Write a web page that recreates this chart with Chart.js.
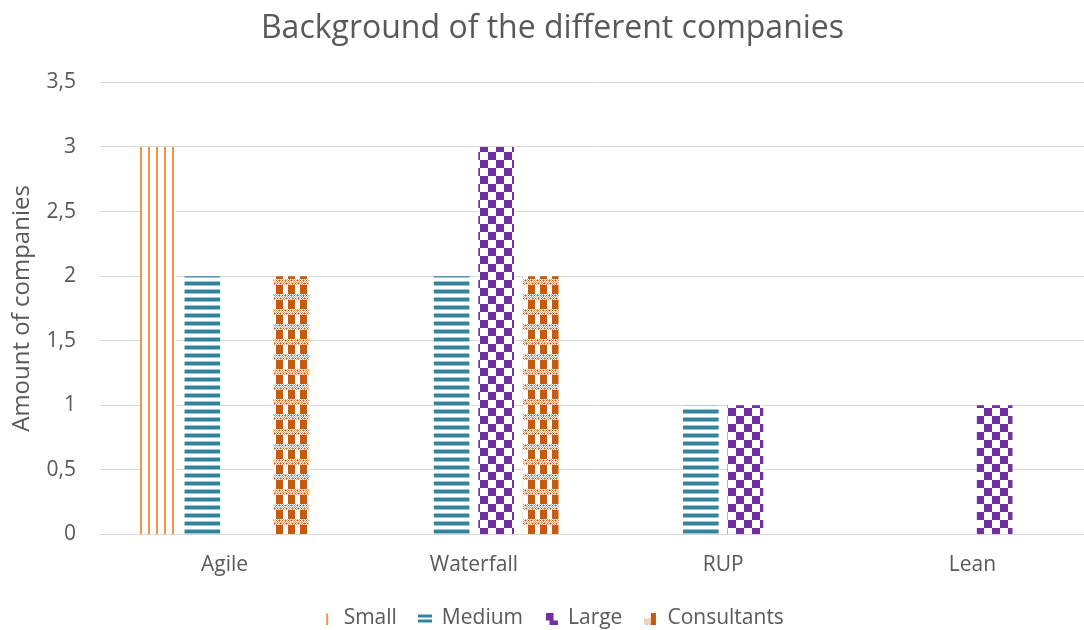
<!DOCTYPE html>
<html>
<head>
<meta charset="utf-8">
<script src="https://cdn.jsdelivr.net/npm/chart.js@4/dist/chart.umd.min.js"></script>
<style>
  html, body { margin: 0; padding: 0; background: #ffffff; overflow: hidden; }
  #wrap { width: 1084px; height: 630px; position: relative; overflow: hidden; }
  #c { position: absolute; left: 0; top: 0; }
</style>
</head>
<body>
<div id="wrap"><canvas id="c" width="1100" height="639"></canvas></div>
<script>
const categories = ['Agile', 'Waterfall', 'RUP', 'Lean'];
const seriesNames = ['Small', 'Medium', 'Large', 'Consultants'];
const smallValues = [3, 0, 0, 0];
const mediumValues = [2, 2, 1, 0];
const largeValues = [0, 3, 1, 1];
const consultantsValues = [2, 2, 0, 0];
const yTicks = [0, 0.5, 1, 1.5, 2, 2.5, 3, 3.5];

function makeCanvas(w, h, draw, bg) {
  const c = document.createElement('canvas');
  c.width = w; c.height = h;
  const g = c.getContext('2d');
  if (bg) { g.fillStyle = bg; g.fillRect(0, 0, w, h); }
  draw(g);
  return c;
}
function makeTile(w, h, draw) {
  const c = makeCanvas(w, h, draw, '#ffffff');
  return document.getElementById('c').getContext('2d').createPattern(c, 'repeat');
}

const smallPattern = makeTile(8, 8, g => {
  g.fillStyle = '#F0944A';
  g.fillRect(4, 0, 2, 8);
});
const mediumPattern = makeTile(8, 8, g => {
  g.fillStyle = '#9CC5D1';
  g.fillRect(0, 1, 8, 1);
  g.fillRect(0, 5, 8, 1);
  g.fillStyle = '#31849B';
  g.fillRect(0, 2, 8, 3);
});
const largePattern = makeTile(16, 16, g => {
  g.fillStyle = '#7030A0';
  g.fillRect(0, 0, 8, 8);
  g.fillRect(8, 8, 8, 8);
});
const consultantsPattern = makeTile(12, 15, g => {
  g.fillStyle = '#C55A11';
  g.fillRect(0, 0, 7, 9);
  g.fillStyle = '#E2A47A';
  for (let y = 9; y < 15; y++) {
    for (let x = 0; x < 12; x++) {
      if ((x + y) % 2 === 0) g.fillRect(x, y, 1, 1);
    }
  }
  g.fillStyle = '#C55A11';
  for (let x = 0; x < 12; x += 3) g.fillRect(x, 10, 1, 1);
  for (let x = 1; x < 12; x += 3) g.fillRect(x, 13, 1, 1);
});

// legend markers
const legendMarkers = [
  makeCanvas(12, 12, g => { g.fillStyle = '#F0944A'; g.fillRect(5, 1, 2, 11); }),
  makeCanvas(14, 10, g => { g.fillStyle = '#31849B'; g.fillRect(0, 1, 14, 3); g.fillRect(0, 6, 14, 3); }),
  makeCanvas(12, 12, g => {
    g.fillStyle = '#7030A0';
    g.fillRect(0, 0, 8, 8); g.fillRect(8, 8, 4, 4); g.fillRect(4, 8, 4, 4);
  }),
  makeCanvas(14, 12, g => {
    g.fillStyle = '#C55A11';
    g.fillRect(7, 0, 5, 12);
    g.fillStyle = '#E2A47A';
    for (let y = 6; y < 12; y++) for (let x = 0; x < 7; x++) if ((x + y) % 2 === 0) g.fillRect(x, y, 1, 1);
  })
];

const patterns = [smallPattern, mediumPattern, largePattern, consultantsPattern];
const values = [smallValues, mediumValues, largeValues, consultantsValues];

const FONT = "'Open Sans', Lato, sans-serif";
const TXT = '#595959';

new Chart(document.getElementById('c'), {
  type: 'bar',
  data: {
    labels: categories,
    datasets: seriesNames.map((n, i) => ({
      label: n,
      data: values[i],
      backgroundColor: patterns[i],
      borderWidth: 0,
      categoryPercentage: 0.715,
      barPercentage: 0.8
    }))
  },
  options: {
    responsive: false,
    animation: false,
    layout: { padding: { left: 8, right: 3, top: 6, bottom: 0 } },
    plugins: {
      title: {
        display: true,
        text: 'Background of the different companies',
        color: TXT,
        font: { family: FONT, size: 32, weight: 'normal' },
        padding: { top: 4, bottom: 34 }
      },
      legend: {
        position: 'bottom',
        labels: {
          color: TXT,
          font: { family: FONT, size: 21 },
          boxWidth: 12,
          boxHeight: 12,
          usePointStyle: true,
          padding: 22.5,
          generateLabels: chart => {
            const items = Chart.defaults.plugins.legend.labels.generateLabels(chart);
            items.forEach((it, i) => { it.pointStyle = legendMarkers[i]; });
            return items;
          }
        }
      },
      tooltip: { enabled: false }
    },
    scales: {
      x: {
        grid: { display: false },
        border: { display: true, color: '#D9D9D9', width: 1 },
        ticks: { color: TXT, font: { family: FONT, size: 21 }, padding: 10 },
        afterFit: s => { s.height = 51; }
      },
      y: {
        min: 0,
        max: 3.5,
        afterBuildTicks: s => { s.ticks = yTicks.map(v => ({ value: v })); },
        afterFit: s => { s.width = 92; },
        grid: { color: '#D9D9D9', drawTicks: false },
        border: { display: false },
        ticks: {
          color: TXT,
          font: { family: FONT, size: 21 },
          padding: 24,
          callback: v => String(v).replace('.', ',')
        },
        title: {
          display: true,
          text: 'Amount of companies',
          color: TXT,
          font: { family: FONT, size: 24 },
          padding: 0
        }
      }
    }
  }
});
</script>
</body>
</html>
